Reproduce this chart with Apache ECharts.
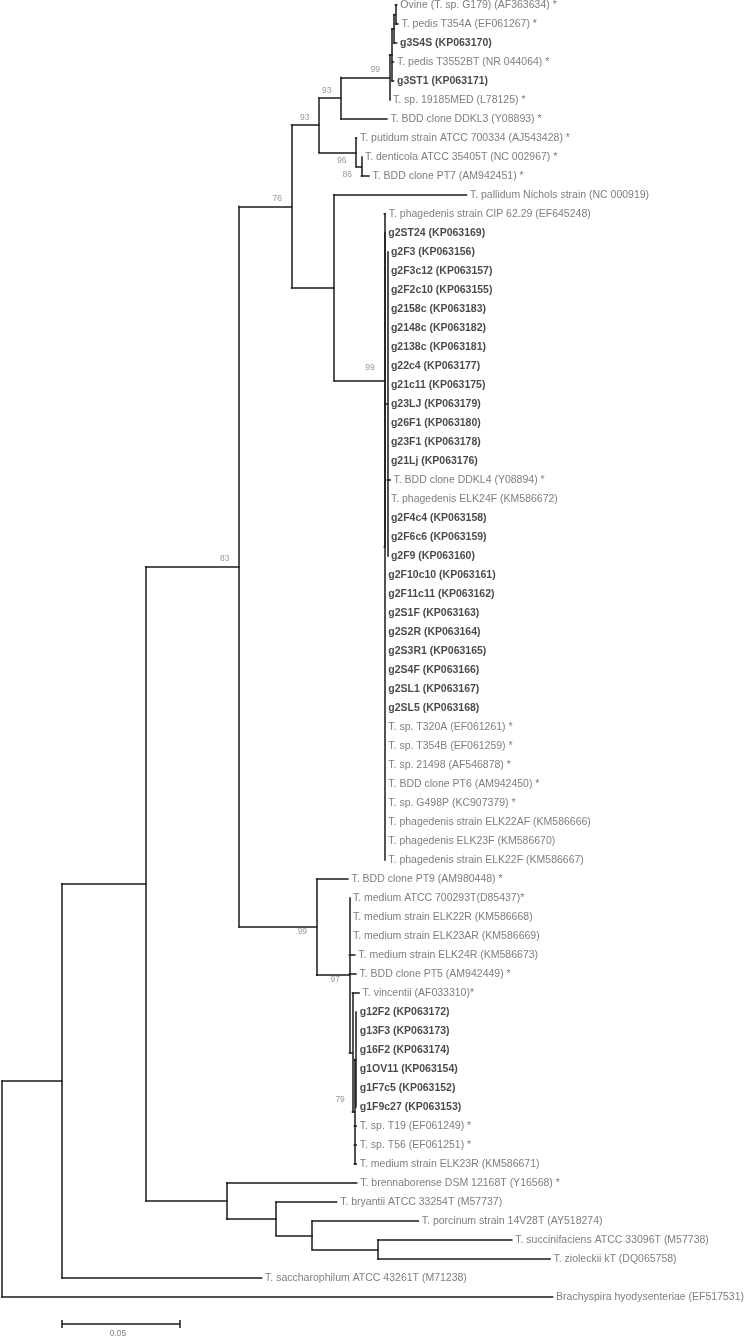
<!DOCTYPE html>
<html><head><meta charset="utf-8">
<script src="https://cdn.jsdelivr.net/npm/echarts@6/dist/echarts.min.js"></script>
<style>html,body{margin:0;padding:0;background:#fff}#c{width:748px;height:1336px}</style>
</head><body><div id="c"></div>
<script>
// ---------- DATA ----------
const leafNames = [
  "Ovine (T. sp. G179) (AF363634) *","T. pedis T354A (EF061267) *","g3S4S (KP063170)",
  "T. pedis T3552BT (NR 044064) *","g3ST1 (KP063171)","T. sp. 19185MED (L78125) *",
  "T. BDD clone DDKL3 (Y08893) *","T. putidum strain ATCC 700334 (AJ543428) *",
  "T. denticola ATCC 35405T (NC 002967) *","T. BDD clone PT7 (AM942451) *",
  "T. pallidum Nichols strain (NC 000919)","T. phagedenis strain CIP 62.29 (EF645248)",
  "g2ST24 (KP063169)","g2F3 (KP063156)","g2F3c12 (KP063157)","g2F2c10 (KP063155)",
  "g2158c (KP063183)","g2148c (KP063182)","g2138c (KP063181)","g22c4 (KP063177)",
  "g21c11 (KP063175)","g23LJ (KP063179)","g26F1 (KP063180)","g23F1 (KP063178)",
  "g21Lj (KP063176)","T. BDD clone DDKL4 (Y08894) *","T. phagedenis ELK24F (KM586672)",
  "g2F4c4 (KP063158)","g2F6c6 (KP063159)","g2F9 (KP063160)","g2F10c10 (KP063161)",
  "g2F11c11 (KP063162)","g2S1F (KP063163)","g2S2R (KP063164)","g2S3R1 (KP063165)",
  "g2S4F (KP063166)","g2SL1 (KP063167)","g2SL5 (KP063168)","T. sp. T320A (EF061261) *",
  "T. sp. T354B (EF061259) *","T. sp. 21498 (AF546878) *","T. BDD clone PT6 (AM942450) *",
  "T. sp. G498P (KC907379) *","T. phagedenis strain ELK22AF (KM586666)",
  "T. phagedenis ELK23F (KM586670)","T. phagedenis strain ELK22F (KM586667)",
  "T. BDD clone PT9 (AM980448) *","T. medium ATCC 700293T(D85437)*",
  "T. medium strain ELK22R (KM586668)","T. medium strain ELK23AR (KM586669)",
  "T. medium strain ELK24R (KM586673)","T. BDD clone PT5 (AM942449) *",
  "T. vincentii (AF033310)*","g12F2 (KP063172)","g13F3 (KP063173)","g16F2 (KP063174)",
  "g1OV11 (KP063154)","g1F7c5 (KP063152)","g1F9c27 (KP063153)","T. sp. T19 (EF061249) *",
  "T. sp. T56 (EF061251) *","T. medium strain ELK23R (KM586671)",
  "T. brennaborense DSM 12168T (Y16568) *","T. bryantii ATCC 33254T (M57737)",
  "T. porcinum strain 14V28T (AY518274)","T. succinifaciens ATCC 33096T (M57738)",
  "T. zioleckii kT (DQ065758)","T. saccharophilum ATCC 43261T (M71238)",
  "Brachyspira hyodysenteriae (EF517531)"
];
// isolates of this study (shown in bold)
const boldLeaves = [2,4,12,13,14,15,16,17,18,19,20,21,22,23,24,27,28,29,30,31,32,33,34,35,36,37,53,54,55,56,57,58];

// tree topology: leaves are indices into leafNames, ":" = branch length, internal labels = bootstrap
const cladeH   = "((((0:0.0006,1:0.0011):0.0006,2:0.0011):0.0008,3:0.0006,4:0.0006):0.0011,5:0)99";
const cladeG   = "(" + cladeH + ":0.0206,6:0.0195)93";
const cladeI   = "(7:0.0002,(8:0,9:0.0032)86:0.0023)96";
const cladeF   = "(" + cladeG + ":0.0093," + cladeI + ":0.0157)93";
const cladeP3  = "(13:0,14:0,15:0,16:0,17:0,18:0,19:0,20:0,21:0,22:0,23:0,24:0,25:0.0011,26:0,27:0,28:0,29:0)";
const cladeP2  = "(12:0," + cladeP3 + ":0.0011,30:0,31:0,32:0,33:0,34:0,35:0,36:0,37:0,38:0,39:0,40:0,41:0,42:0,43:0,44:0,45:0)";
const cladeL   = "(11:0.0004," + cladeP2 + ":0.0002)99";
const cladeK   = "(10:0.0562," + cladeL + ":0.0214)";
const cladeE   = "(" + cladeF + ":0.0116," + cladeK + ":0.0179)76";
const cladeR   = "(53:0.0002,54:0.0002,55:0.0002,56:0.0002,57:0.0002,58:0.0002)";
const clade79  = "(" + cladeR + ":0.0006,59:0.0008,60:0.0008,61:0.0008)79";
const cladeS   = "(52:0.0028," + clade79 + ":0.0008)";
const cladeO   = "(47:0,48:0,49:0,50:0.0023,51:0.0028," + cladeS + ":0.0013)97";
const cladeM   = "(46:0.0133," + cladeO + ":0.0139)99";
const cladeD   = "(" + cladeE + ":0.0223," + cladeM + ":0.0329)83";
const cladeN   = "(62:0.0551,(63:0.0257,(64:0.0450,(65:0.0568,66:0.0730):0.0278):0.0153):0.0209)";
const cladeC   = "(" + cladeD + ":0.0395," + cladeN + ":0.0343)";
const newick   = "((" + cladeC + ":0.0355,67:0.0846):0.0254,68:0.2333);";

const scaleBarLength = 0.05;
const scaleBarLabel = "0.05";

// ---------- STYLE ----------
// vertical offset (px) of bootstrap values, in the order they appear in the newick string
const bootstrapDy = [-8, -8, 8, 8, -8, -13, -8, -12, 4, 5, -8];
const pxPerUnit = 2360, rowPx = 19, topPx = 5, leftPx = 2;
const W = 748, H = 1336;
const FONT = '"Liberation Sans", Arial, Helvetica, sans-serif';

// ---------- BUILD ----------
function parseNewick(str){
  const s = str.replace(/\s+/g,''); let i = 0;
  function node(){
    const n = {children:[], label:'', len:0};
    if (s[i] === '('){
      i++; n.children.push(node());
      while (s[i] === ','){ i++; n.children.push(node()); }
      i++;
    }
    let lab=''; while (i < s.length && !':,();'.includes(s[i])) lab += s[i++];
    n.label = lab;
    if (s[i] === ':'){ i++; let num=''; while (i < s.length && !',();'.includes(s[i])) num += s[i++]; n.len = parseFloat(num); }
    return n;
  }
  return node();
}
const root = parseNewick(newick);
const segs = [], leaves = [], boots = [];
function layout(n, depth){
  n.x = depth + n.len;
  if (!n.children.length){ n.y = +n.label; leaves.push(n); }
  else {
    n.children.forEach(c => layout(c, n.x));
    n.y = (n.children[0].y + n.children[n.children.length-1].y)/2;
    segs.push([[n.x, n.children[0].y],[n.x, n.children[n.children.length-1].y]]);
    if (n.label) boots.push(n);
  }
}
function hsegs(n, px){
  if (n !== root) segs.push([[px, n.y],[n.x, n.y]]);
  n.children.forEach(c => hsegs(c, n.x));
}
layout(root, 0);
hsegs(root, 0);
const lineData = segs.map(c => ({coords:c}));

const bootData = boots.map((n,k) => ({
  value:[n.x, n.y], name:n.label, label:{offset:[0, bootstrapDy[k]]}
}));
const boldSet = new Set(boldLeaves);
const leafData = leaves.map(n => {
  const idx = n.y, b = boldSet.has(idx);
  return {value:[n.x, idx], name:leafNames[idx],
    label:{fontWeight: b ? 'bold' : 'normal', color: b ? '#1a1a1a' : '#5c5c5c'}};
});

const chart = echarts.init(document.getElementById('c'), null, {renderer:'canvas'});
chart.setOption({
  animation:false,
  backgroundColor:'#fff',
  grid:{left:0, right:0, top:0, bottom:0},
  xAxis:{type:'value', min:-leftPx/pxPerUnit, max:(W-leftPx)/pxPerUnit, show:false},
  yAxis:{type:'value', inverse:true, min:-topPx/rowPx, max:(H-topPx)/rowPx, show:false},
  series:[
    {type:'lines', coordinateSystem:'cartesian2d', silent:true, data:lineData,
     lineStyle:{color:'#1a1a1a', width:1.5, opacity:1, cap:'square'}, z:2},
    {type:'scatter', silent:true, symbolSize:1, itemStyle:{color:'rgba(0,0,0,0)'}, data:leafData,
     label:{show:true, position:'right', distance:3, formatter:p=>p.name,
            fontFamily:FONT, fontSize:10.5}, z:3},
    {type:'scatter', silent:true, symbolSize:1, itemStyle:{color:'rgba(0,0,0,0)'}, data:bootData,
     label:{show:true, position:'left', distance:9, formatter:p=>p.name,
            fontFamily:FONT, fontSize:8.5, color:'#808080'}, z:3},
    {type:'custom', silent:true, data:[[0]], z:3,
     renderItem:(params, api) => {
       const x0 = (62-leftPx)/pxPerUnit, row = (1324-topPx)/rowPx;
       const p0 = api.coord([x0, row]), p1 = api.coord([x0+scaleBarLength, row]);
       const st = {stroke:'#1a1a1a', lineWidth:1.5};
       return {type:'group', children:[
         {type:'line', shape:{x1:p0[0],y1:p0[1],x2:p1[0],y2:p1[1]}, style:st},
         {type:'line', shape:{x1:p0[0],y1:p0[1]-4,x2:p0[0],y2:p0[1]+4}, style:st},
         {type:'line', shape:{x1:p1[0],y1:p1[1]-4,x2:p1[0],y2:p1[1]+4}, style:st},
         {type:'text', style:{text:scaleBarLabel, x:(p0[0]+p1[0])/2-3, y:p0[1]+9.5,
           align:'center', verticalAlign:'middle', fill:'#808080', font:'8.5px '+FONT}}
       ]};
     }}
  ]
});
</script></body></html>
